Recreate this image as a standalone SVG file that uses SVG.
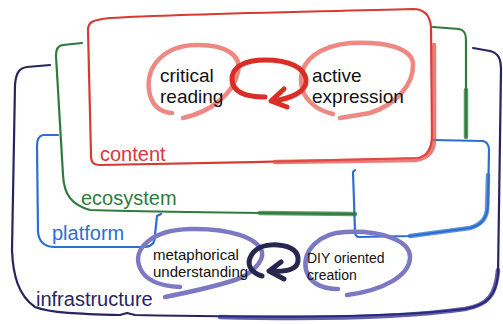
<svg xmlns="http://www.w3.org/2000/svg" width="503" height="324" viewBox="0 0 503 324">
<style>
.ln{fill:none;stroke-linecap:round;stroke-linejoin:round}
.box{stroke-width:2.2}
.thick{stroke-width:4.5;opacity:0.75}
.ell{stroke-width:4.5}
.arr{stroke-width:5}
.lbl{font-family:"Liberation Sans",Arial,Helvetica,sans-serif;font-size:20px}
.txt{font-family:"Liberation Sans",Arial,Helvetica,sans-serif;fill:#111}
</style>
<rect width="503" height="324" fill="#fff"/>
<g id="infrastructure">
<path class="ln box" stroke="#27255f" d="M50 65 L27 67 C19 68 16 73 15 85 L12 250 C13 275 18 295 35 307 C50 313 80 314 120 315 L127 313 L135 315 C250 317 380 319 465 309 C488 305 496 295 498 275 L501 70 C501 58 498 53 490 51 L473 48"/>
<path class="ln thick" stroke="#2d2a8a" d="M220 317 C300 319 400 318 465 309 C488 305 496 295 498 270"/>
<text class="lbl" x="36" y="306" fill="#27255f">infrastructure</text>
</g>
<g id="platform">
<path class="ln box" stroke="#2d6ed0" d="M58 135 L43 135 C38 136 37 140 37 146 L38 232 C39 242 45 247 55 247 L145 247 C153 246 155 242 155 235 L157 216 L161 214"/>
<path class="ln box" stroke="#2d6ed0" d="M433 140 L483 141 C487 142 489 145 489 150 L488 205 C487 218 482 225 470 228 L410 236 L359 237 C356 237 355 235 355 231 L353 172 L355 170"/>
<path class="ln thick" stroke="#2d6ed0" d="M488 175 L487 210 C486 220 480 225 470 228 L410 236"/>
<text class="lbl" x="52" y="240" fill="#2d6ed0">platform</text>
</g>
<g id="ecosystem">
<path class="ln box" stroke="#2e7b3d" d="M82 43 L63 45 C57 46 56 50 56 56 L63 175 C64 195 72 205 90 210 C150 212 250 213 355 214"/>
<path class="ln box" stroke="#2e7b3d" d="M433 27 L459 29 C464 30 466 33 466 40 L466 137"/>
<path class="ln thick" stroke="#2e7b3d" d="M260 213 L355 214 M466 90 L466 137"/>
<text class="lbl" x="81" y="205" fill="#2e7b3d">ecosystem</text>
</g>
<g id="content">
<path class="ln box" stroke="#d83a33" d="M110 18 C180 14 300 12 413 9 C424 9 430 15 431 27 L432 135 C432 148 428 156 418 158 C320 161 200 163 100 165 C93 165 91 162 91 155 L88 30 C88 22 92 20 110 18 Z"/>
<path class="ln thick" stroke="#e4504a" d="M434 45 L434 140 C434 152 428 158 415 160 L275 162"/>
<text class="lbl" x="100" y="161" fill="#d83a33">content</text>
</g>
<g id="critical-reading">
<path class="ln ell" stroke="#ee8882" d="M172 113 C160 112 151 105 149 90 C146 65 165 46 195 45 C225 44 242 55 238 72 C233 95 210 112 183 118"/>
<text class="txt" font-size="19" x="160" y="82">critical</text>
<text class="txt" font-size="19" x="160" y="103">reading</text>
</g>
<g id="active-expression">
<path class="ln ell" stroke="#ee8882" d="M333 114 C315 110 302 98 301 82 C300 60 320 46 350 43 C385 41 412 48 413 64 C414 85 395 105 370 113 L340 118"/>
<text class="txt" font-size="19" x="312" y="82">active</text>
<text class="txt" font-size="19" x="312" y="103">expression</text>
</g>
<g id="metaphorical-understanding">
<path class="ln ell" stroke="#7c79c2" d="M180 287 C160 286 145 280 140 268 C132 250 150 230 190 229 C230 228 258 238 262 252 C264 262 250 275 235 280 C210 288 185 293 165 297"/>
<text class="txt" font-size="15" x="153" y="260">metaphorical</text>
<text class="txt" font-size="15" x="153" y="277">understanding</text>
</g>
<g id="diy-oriented-creation">
<path class="ln ell" stroke="#7c79c2" d="M338 289 C320 289 310 283 306 270 C302 250 320 233 345 232 C380 230 410 240 410 257 C410 275 385 290 347 295"/>
<text class="txt" font-size="14" x="307" y="263">DIY oriented</text>
<text class="txt" font-size="14" x="307" y="280">creation</text>
</g>
<g id="connectors">
<path class="ln arr" stroke="#d92d25" d="M265 97 C245 97 233 92 232 80 C231 67 245 60 265 60 C290 60 305 68 306 80 C307 92 290 99 272 101 M284 89 L271 101 L287 107"/>
<path class="ln arr" stroke="#27264f" d="M262 276 C252 273 247 266 250 258 C254 248 265 244 278 245 C292 246 299 252 298 261 C297 270 285 272 270 271 M281 262 L269 271 L284 279"/>
</g>
</svg>
